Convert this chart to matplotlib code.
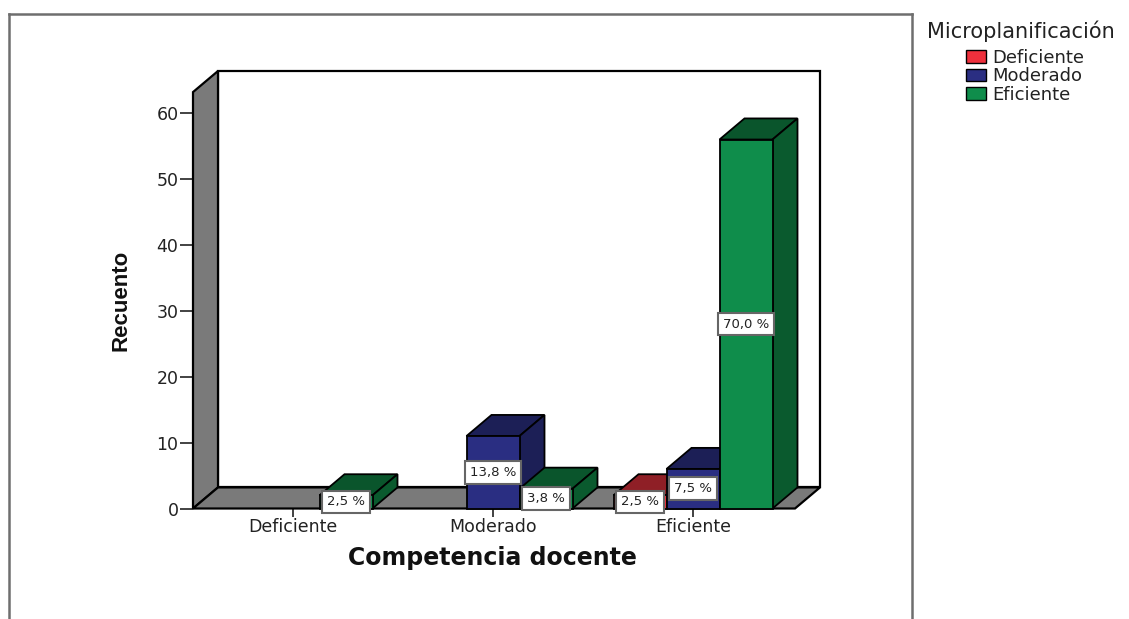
# Barras 3D: Competencia docente vs Microplanificación
import matplotlib
matplotlib.use('Agg')
import matplotlib.pyplot as plt
from matplotlib.lines import Line2D
from matplotlib.patches import Patch, Polygon

categorias = ['Deficiente', 'Moderado', 'Eficiente']
series = ['Deficiente', 'Moderado', 'Eficiente']
# recuento por categoria, una lista por serie
rec_deficiente = [0, 0, 2]
rec_moderado = [0, 11, 6]
rec_eficiente = [2, 3, 56]
pct_deficiente = ['', '', '2,5 %']
pct_moderado = ['', '13,8 %', '7,5 %']
pct_eficiente = ['2,5 %', '3,8 %', '70,0 %']
yticks = [0, 10, 20, 30, 40, 50, 60]

W, H = 1129, 619
col_frente = ['#ee303c', '#2a2e82', '#0f8d4b']
col_techo = ['#8f1f26', '#1c1f56', '#0a552c']
col_lado = ['#8f1f26', '#1c1f56', '#0a5a2e']
gris = '#7a7a7a'
ancho = 0.265
dx, dy = 0.125, 3.2  # profundidad en unidades de datos

plt.rcParams['font.family'] = ['DejaVu Sans']
fig = plt.figure(figsize=(W / 100, H / 100), dpi=100, facecolor='white')
ax = fig.add_axes([193 / W, (H - 508.5) / H, 602 / W, 437.5 / H])
ax.set_xlim(-0.5, 2.51)
ax.set_ylim(0, 66.4)
for s in ax.spines.values():
    s.set_visible(False)
ax.patch.set_visible(False)

x0, x1 = ax.get_xlim()
ytop = ax.get_ylim()[1]
# paredes y piso
ax.add_patch(Polygon([(x0 + dx, dy), (x0 + dx, ytop), (x1 + dx, ytop), (x1 + dx, dy)], fc='white', ec='black', lw=1.6, clip_on=False, zorder=1))
ax.add_patch(Polygon([(x0, 0), (x0, ytop - dy), (x0 + dx, ytop), (x0 + dx, dy)], fc=gris, ec='black', lw=1.6, clip_on=False, zorder=2))
ax.add_patch(Polygon([(x0, 0), (x0 + dx, dy), (x1 + dx, dy), (x1, 0)], fc=gris, ec='black', lw=1.6, clip_on=False, zorder=2))


def barra(xc, h, i, z):
    izq, der = xc - ancho / 2, xc + ancho / 2
    ax.add_patch(Polygon([(izq, h), (izq + dx, h + dy), (der + dx, h + dy), (der, h)], fc=col_techo[i], ec='black', lw=1.3, clip_on=False, zorder=z))
    ax.add_patch(Polygon([(der, 0), (der, h), (der + dx, h + dy), (der + dx, dy)], fc=col_lado[i], ec='black', lw=1.3, clip_on=False, zorder=z))
    ax.bar(xc, h, width=ancho, color=col_frente[i], edgecolor='black', linewidth=1.3, zorder=z + 0.1, clip_on=False)


valores = [rec_deficiente, rec_moderado, rec_eficiente]
pcts = [pct_deficiente, pct_moderado, pct_eficiente]
z = 3
for c in range(len(categorias)):
    for i in range(len(series)):
        if valores[i][c] > 0:
            xc = c + (i - 1) * ancho
            barra(xc, valores[i][c], i, z)
            z += 1

for c in range(len(categorias)):
    for i in range(len(series)):
        if pcts[i][c]:
            xc = c + (i - 1) * ancho
            ax.text(xc, valores[i][c] / 2, pcts[i][c], ha='center', va='center', fontsize=9.5, color='#222222',
                    zorder=50, clip_on=False,
                    bbox=dict(boxstyle='square,pad=0.36', fc='white', ec='#666666', lw=1.5))

ax.set_yticks(yticks)
ax.set_xticks(range(len(categorias)))
ax.set_xticklabels(categorias)
ax.tick_params(axis='y', length=9.5, width=1.2, labelsize=12.5, pad=1, color='#222222', labelcolor='#222222')
ax.tick_params(axis='x', length=6, width=1.2, labelsize=12.5, pad=1, color='#222222', labelcolor='#222222')

fig.text(121 / W, 1 - 300 / H, 'Recuento', rotation=90, ha='center', va='center', fontsize=16,
         fontweight='bold', family=['Liberation Sans Narrow', 'Liberation Sans'], color='#111111')
fig.text(492 / W, 1 - 558 / H, 'Competencia docente', ha='center', va='center', fontsize=17,
         fontweight='bold', color='#111111')

# marco exterior del grafico
for xs, ys in [((9, 9), (14, H)), ((9, 912), (14, 14)), ((912, 912), (14, H))]:
    fig.add_artist(Line2D([v / W for v in xs], [1 - v / H for v in ys], color='#6e6e6e', lw=1.8))

# leyenda: titulo aparte para poder colocarlo igual que el original
fig.text(927 / W, 1 - 31 / H, 'Microplanificación', ha='left', va='center', fontsize=15, color='#222222')
handles = [Patch(fc=col_frente[i], ec='black', lw=1.0) for i in range(len(series))]
leg = fig.legend(handles, series, loc='upper left', bbox_to_anchor=(966 / W, 1 - 49 / H),
                 frameon=False, fontsize=13, handlelength=1.1, handleheight=0.7,
                 handletextpad=0.35, labelspacing=0.02, borderpad=0, borderaxespad=0)
for t in leg.get_texts():
    t.set_color('#222222')

fig.savefig('out.png', dpi=100)
